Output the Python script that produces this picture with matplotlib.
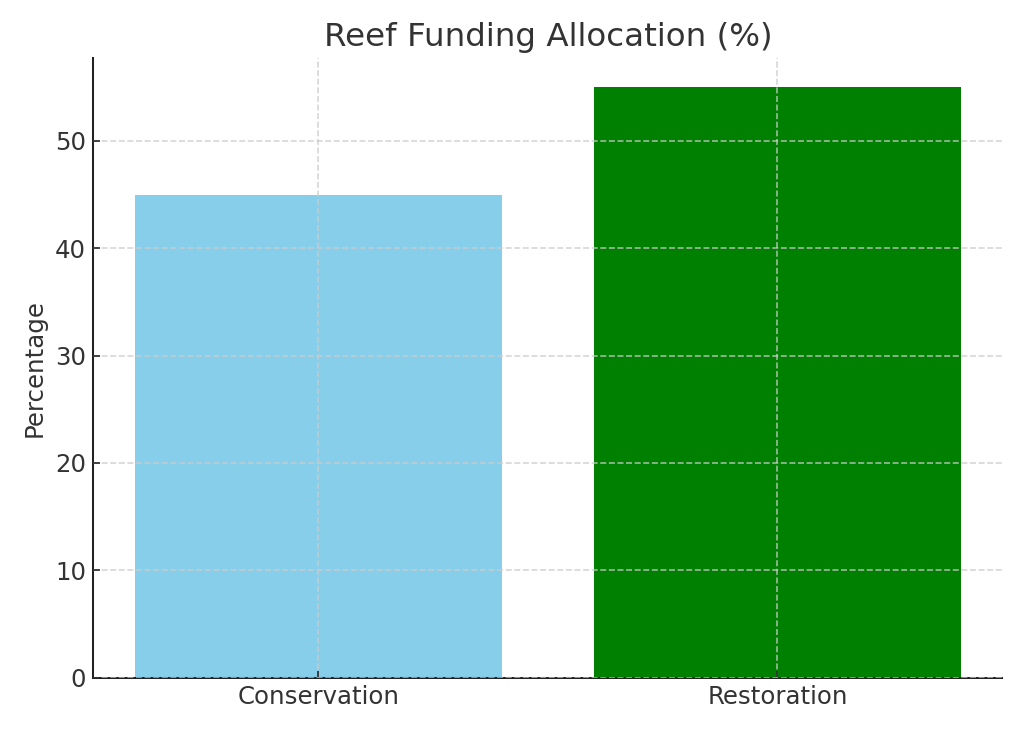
import matplotlib
matplotlib.use("Agg")
import matplotlib.pyplot as plt

categories = ["Conservation", "Restoration"]
values = [45, 55]
colors = ["skyblue", "green"]

plt.rcParams["text.color"] = "#333333"
plt.rcParams["axes.labelcolor"] = "#333333"
plt.rcParams["xtick.color"] = "#222222"
plt.rcParams["ytick.color"] = "#222222"
plt.rcParams["xtick.labelcolor"] = "#333333"
plt.rcParams["ytick.labelcolor"] = "#333333"
plt.rcParams["axes.edgecolor"] = "#222222"
plt.rcParams["axes.linewidth"] = 1.0

dpi = 146
fig, ax = plt.subplots(figsize=(1024 / dpi, 731 / dpi), dpi=dpi)
ax.bar(categories, values, color=colors, width=0.8)
ax.set_title("Reef Funding Allocation (%)", fontsize=16)
ax.set_ylabel("Percentage", fontsize=12)
ax.tick_params(labelsize=12, direction="in")
ax.grid(True, linestyle="--", color="#cccccc", alpha=0.8)
ax.set_axisbelow(False)
ax.spines["top"].set_visible(False)
ax.spines["right"].set_visible(False)
fig.subplots_adjust(left=0.091, right=0.979, top=0.921, bottom=0.073)
fig.savefig("out.png", dpi=dpi)
